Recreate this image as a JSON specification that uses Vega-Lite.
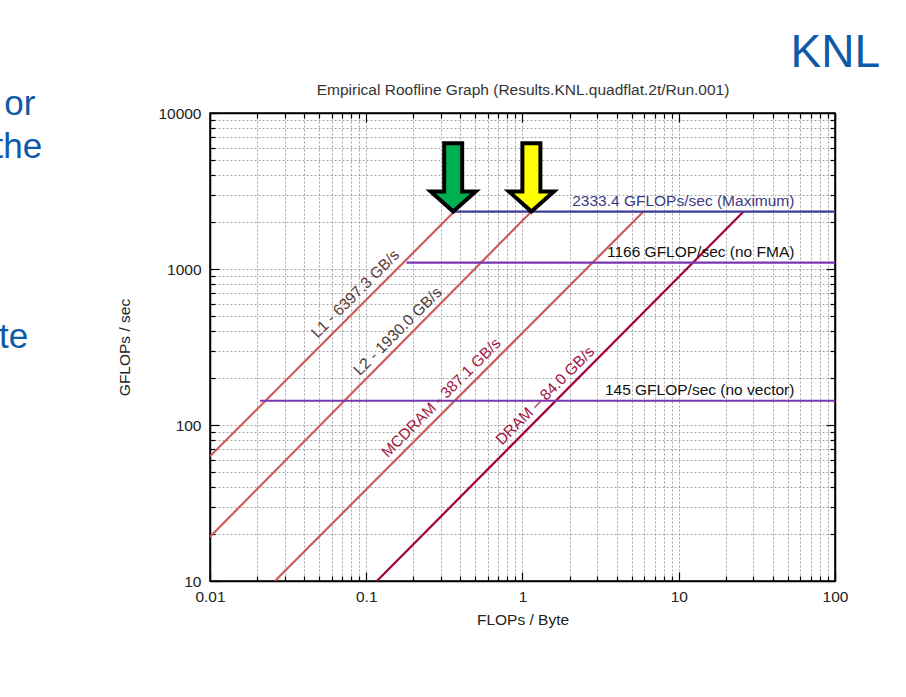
{
  "$schema": "https://vega.github.io/schema/vega-lite/v6.json",
  "width": 625,
  "height": 468,
  "autosize": {"type": "none"},
  "padding": {"left": 210, "top": 113, "right": 71, "bottom": 116},
  "background": "white",
  "config": {
    "font": "Liberation Sans",
    "view": {"stroke": "black", "strokeWidth": 1.5}
  },
  "title": {
    "text": "KNL",
    "anchor": "end",
    "frame": "group",
    "fontSize": 46,
    "fontWeight": "normal",
    "font": "Liberation Sans",
    "color": "#0f5aa8",
    "dx": 45,
    "offset": 5
  },
  "datasets": {
    "lines": [
      {"series": "L1", "x": 0.01, "y": 63},
      {"series": "L1", "x": 0.366, "y": 2333.4},
      {"series": "L2", "x": 0.01, "y": 19.2},
      {"series": "L2", "x": 1.14, "y": 2333.4},
      {"series": "MCDRAM", "x": 0.026, "y": 10},
      {"series": "MCDRAM", "x": 5.95, "y": 2333.4},
      {"series": "DRAM", "x": 0.117, "y": 10},
      {"series": "DRAM", "x": 26, "y": 2333.4},
      {"series": "Maximum", "x": 0.366, "y": 2333.4},
      {"series": "Maximum", "x": 100, "y": 2333.4},
      {"series": "no FMA", "x": 0.181, "y": 1100},
      {"series": "no FMA", "x": 100, "y": 1100},
      {"series": "no vector", "x": 0.0209, "y": 143},
      {"series": "no vector", "x": 100, "y": 143}
    ],
    "diag": [
      {"series": "L1", "label": "L1 - 6397.3 GB/s", "x": 0.0964, "y": 612},
      {"series": "L2", "label": "L2 - 1930.0 GB/s", "x": 0.18, "y": 352},
      {"series": "MCDRAM", "label": "MCDRAM - 387.1 GB/s", "x": 0.3416, "y": 132},
      {"series": "DRAM", "label": "DRAM – 84.0 GB/s", "x": 1.578, "y": 136}
    ],
    "ceil": [
      {"series": "Maximum", "label": "2333.4 GFLOPs/sec (Maximum)", "x": 55, "y": 2333.4},
      {"series": "no FMA", "label": "1166 GFLOP/sec (no FMA)", "x": 55, "y": 1100},
      {"series": "no vector", "label": "145 GFLOP/sec (no vector)", "x": 55, "y": 143}
    ],
    "arrows": [
      {"arrow": "L1 ridge", "x": 0.36, "y": 2333.4},
      {"arrow": "L2 ridge", "x": 1.14, "y": 2333.4}
    ],
    "slide": [
      {"text": "or", "x": 0.000762, "y": 9705},
      {"text": "the", "x": 0.000844, "y": 5147},
      {"text": "te", "x": 0.000687, "y": 311.6}
    ]
  },
  "layer": [
    {
      "data": {"name": "lines"},
      "mark": {"type": "line", "clip": true, "strokeWidth": 2.2, "strokeCap": "butt"},
      "encoding": {
        "x": {
          "field": "x", "type": "quantitative",
          "scale": {"type": "log", "domain": [0.01, 100], "nice": false},
          "axis": {
            "orient": "bottom",
            "values": [0.01,0.02,0.03,0.04,0.05,0.06,0.07,0.08,0.09,0.1,0.2,0.3,0.4,0.5,0.6,0.7,0.8,0.9,1,2,3,4,5,6,7,8,9,10,20,30,40,50,60,70,80,90,100],
            "format": "~g",
            "labelExpr": "abs(log(datum.value)/LN10 - round(log(datum.value)/LN10)) < 0.001 ? datum.label : ''",
            "tickSize": {"condition": {"test": "abs(log(datum.value)/LN10 - round(log(datum.value)/LN10)) < 0.001", "value": -9}, "value": -5},
            "tickColor": "black", "tickWidth": 1.2,
            "domainColor": "black", "domainWidth": 1.5,
            "grid": true, "gridColor": "#7a7a7a", "gridDash": [2, 2], "gridWidth": 0.8, "gridOpacity": 0.85,
            "labelFontSize": 15.5, "labelColor": "#222", "labelPadding": 17,
            "labelFlush": false, "labelOverlap": false,
            "title": "FLOPs / Byte", "titleFontSize": 15.5, "titleFontWeight": "normal",
            "titleColor": "#222", "titlePadding": 4
          }
        },
        "y": {
          "field": "y", "type": "quantitative",
          "scale": {"type": "log", "domain": [10, 10000], "nice": false},
          "axis": {
            "orient": "left",
            "values": [10,20,30,40,50,60,70,80,90,100,200,300,400,500,600,700,800,900,1000,2000,3000,4000,5000,6000,7000,8000,9000,10000],
            "format": "~g",
            "labelExpr": "abs(log(datum.value)/LN10 - round(log(datum.value)/LN10)) < 0.001 ? datum.label : ''",
            "tickSize": {"condition": {"test": "abs(log(datum.value)/LN10 - round(log(datum.value)/LN10)) < 0.001", "value": -9}, "value": -5},
            "tickColor": "black", "tickWidth": 1.2,
            "domainColor": "black", "domainWidth": 1.5,
            "grid": true, "gridColor": "#7a7a7a", "gridDash": [2, 2], "gridWidth": 0.8, "gridOpacity": 0.85,
            "labelFontSize": 15.5, "labelColor": "#222", "labelPadding": 18,
            "labelFlush": false, "labelOverlap": false,
            "title": "GFLOPs / sec", "titleFontSize": 15.5, "titleFontWeight": "normal",
            "titleColor": "#222", "titlePadding": 25
          }
        },
        "color": {
          "field": "series", "type": "nominal",
          "scale": {
            "domain": ["L1", "L2", "MCDRAM", "DRAM", "Maximum", "no FMA", "no vector"],
            "range": ["#d05a5a", "#d05a5a", "#d05a5a", "#a3003c", "#3c3c96", "#7a35b0", "#7a35b0"]
          },
          "legend": null
        }
      }
    },
    {
      "data": {"name": "ceil"},
      "mark": {"type": "text", "align": "right", "baseline": "alphabetic", "dy": -6, "fontSize": 15.5, "font": "Liberation Sans"},
      "encoding": {
        "x": {
          "field": "x", "type": "quantitative",
          "scale": {"type": "log", "domain": [0.01, 100], "nice": false},
          "axis": {
            "orient": "top",
            "values": [0.01,0.02,0.03,0.04,0.05,0.06,0.07,0.08,0.09,0.1,0.2,0.3,0.4,0.5,0.6,0.7,0.8,0.9,1,2,3,4,5,6,7,8,9,10,20,30,40,50,60,70,80,90,100],
            "labels": false,
            "tickSize": {"condition": {"test": "abs(log(datum.value)/LN10 - round(log(datum.value)/LN10)) < 0.001", "value": -9}, "value": -5},
            "tickColor": "black", "tickWidth": 1.2,
            "domainColor": "black", "domainWidth": 1.5,
            "grid": false,
            "title": "Empirical Roofline Graph (Results.KNL.quadflat.2t/Run.001)",
            "titleFontSize": 15.5, "titleFontWeight": "normal", "titleColor": "#333", "titlePadding": 15
          }
        },
        "y": {
          "field": "y", "type": "quantitative",
          "scale": {"type": "log", "domain": [10, 10000], "nice": false},
          "axis": {
            "orient": "right",
            "values": [10,20,30,40,50,60,70,80,90,100,200,300,400,500,600,700,800,900,1000,2000,3000,4000,5000,6000,7000,8000,9000,10000],
            "labels": false,
            "tickSize": {"condition": {"test": "abs(log(datum.value)/LN10 - round(log(datum.value)/LN10)) < 0.001", "value": -9}, "value": -5},
            "tickColor": "black", "tickWidth": 1.2,
            "domainColor": "black", "domainWidth": 1.5,
            "grid": false,
            "title": null
          }
        },
        "text": {"field": "label"},
        "color": {
          "field": "series", "type": "nominal",
          "scale": {"domain": ["Maximum", "no FMA", "no vector"], "range": ["#3b3b85", "#111111", "#111111"]},
          "legend": null
        }
      }
    },
    {
      "data": {"name": "diag"},
      "mark": {"type": "text", "align": "center", "baseline": "bottom", "dy": -4, "angle": -45, "fontSize": 15.5, "font": "Liberation Sans"},
      "encoding": {
        "x": {"field": "x", "type": "quantitative", "scale": {"type": "log", "domain": [0.01, 100], "nice": false}, "axis": null},
        "y": {"field": "y", "type": "quantitative", "scale": {"type": "log", "domain": [10, 10000], "nice": false}, "axis": null},
        "text": {"field": "label"},
        "color": {
          "field": "series", "type": "nominal",
          "scale": {"domain": ["L1", "L2", "MCDRAM", "DRAM"], "range": ["#5e3a3a", "#4d3b3b", "#a3203f", "#a3103f"]},
          "legend": null
        }
      }
    },
    {
      "data": {"name": "arrows"},
      "mark": {
        "type": "point",
        "shape": "M -0.25 -1.9 L 0.25 -1.9 L 0.25 -0.56 L 0.625 -0.56 L 0 0 L -0.625 -0.56 L -0.25 -0.56 Z",
        "size": 5184, "filled": true, "stroke": "black", "strokeWidth": 4, "opacity": 1, "strokeOpacity": 1, "fillOpacity": 1, "strokeJoin": "miter"
      },
      "encoding": {
        "x": {"field": "x", "type": "quantitative", "scale": {"type": "log", "domain": [0.01, 100], "nice": false}, "axis": null},
        "y": {"field": "y", "type": "quantitative", "scale": {"type": "log", "domain": [10, 10000], "nice": false}, "axis": null},
        "fill": {
          "field": "arrow", "type": "nominal",
          "scale": {"domain": ["L1 ridge", "L2 ridge"], "range": ["#00b050", "#ffff00"]},
          "legend": null
        }
      }
    },
    {
      "data": {"name": "slide"},
      "mark": {"type": "text", "align": "right", "baseline": "alphabetic", "fontSize": 35, "font": "Liberation Sans", "color": "#0f5aa8", "clip": false},
      "encoding": {
        "x": {"field": "x", "type": "quantitative", "scale": {"type": "log", "domain": [0.01, 100], "nice": false}, "axis": null},
        "y": {"field": "y", "type": "quantitative", "scale": {"type": "log", "domain": [10, 10000], "nice": false}, "axis": null},
        "text": {"field": "text"}
      }
    }
  ],
  "resolve": {
    "axis": {"x": "independent", "y": "independent"},
    "scale": {"color": "independent", "fill": "independent"}
  }
}
